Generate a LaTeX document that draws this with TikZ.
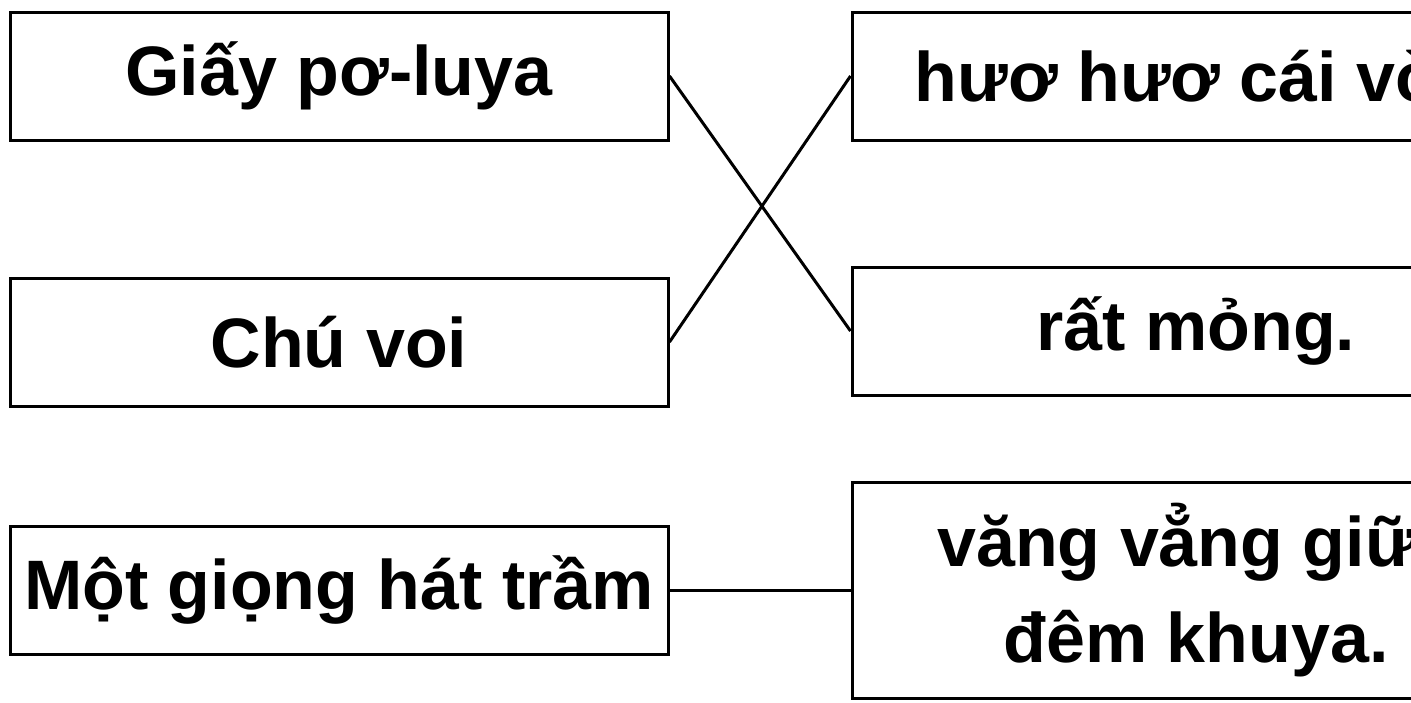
\documentclass[tikz,border=0pt]{standalone}
\usepackage{fontspec}
\setmainfont{Liberation Sans}
\begin{document}
\begin{tikzpicture}[x=1pt,y=-1pt,
  card/.style={draw, line width=3pt, inner sep=0pt, font=\bfseries\fontsize{70}{96}\selectfont, align=center},
  lcard/.style={card, minimum width=658pt, minimum height=128pt},
  rcard/.style={card, minimum width=688pt, minimum height=128pt},
  link/.style={line width=3pt}]
\useasboundingbox (0,0) rectangle (1411,702);
\clip (0,0) rectangle (1411,702);
\node[lcard] (L1) at (339,76) {Giấy pơ-luya};
\node[lcard] (L2) at (339,342) {Chú voi};
\node[lcard] (L3) at (339,590) {Một giọng hát trầm};
\node[rcard] (R1) at (1196,76) {hươ hươ cái vòi.};
\node[rcard] (R2) at (1196,331) {rất mỏng.};
\node[rcard, minimum height=216pt] (R3) at (1196,590) {văng vẳng giữa\\đêm khuya.};
\draw[link] (L1.east) -- (R2.west);
\draw[link] (L2.east) -- (R1.west);
\draw[link] (L3.east) -- (R3.west);
\end{tikzpicture}
\end{document}
